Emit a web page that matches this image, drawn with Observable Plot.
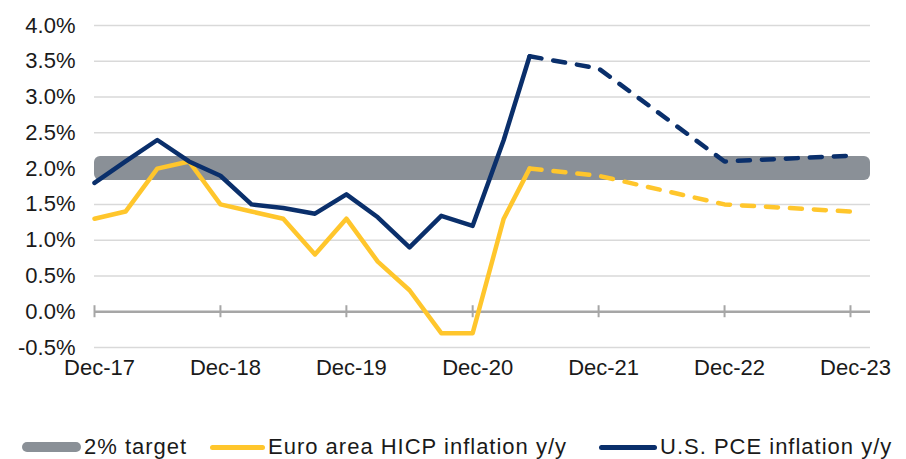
<!DOCTYPE html>
<html>
<head>
<meta charset="utf-8">
<script src="https://cdn.jsdelivr.net/npm/d3@7"></script>
<script src="https://cdn.jsdelivr.net/npm/@observablehq/plot@0.6"></script>
<style>
  html, body { margin: 0; padding: 0; background: #fff; }
  #wrap { position: relative; width: 906px; height: 459px; overflow: hidden; }
  #legend { position: absolute; left: 0; top: 434px; width: 906px; height: 26px;
            font-family: "Liberation Sans", Arial, sans-serif; font-size: 22px; color: #1a1a1a;
            letter-spacing: 1px; }
  .item { position: absolute; top: 0; display: flex; align-items: center; height: 26px; white-space: nowrap; }
  .sw { display: inline-block; border-radius: 5px; margin-right: 3px; }
</style>
</head>
<body>
<div id="wrap">
  <div id="chart"></div>
  <div id="legend"></div>
</div>
<script>
// ---- data (percent, y/y) ----
const actualDates = ["2017-12-01","2018-03-01","2018-06-01","2018-09-01","2018-12-01",
                     "2019-03-01","2019-06-01","2019-09-01","2019-12-01","2020-03-01",
                     "2020-06-01","2020-09-01","2020-12-01","2021-03-01","2021-05-15"];
const euroActual = [1.3, 1.4, 2.0, 2.1, 1.5, 1.4, 1.3, 0.8, 1.3, 0.7, 0.3, -0.3, -0.3, 1.3, 2.0];
const usActual   = [1.8, 2.1, 2.4, 2.1, 1.9, 1.5, 1.45, 1.37, 1.64, 1.32, 0.9, 1.34, 1.2, 2.4, 3.57];

const forecastDates = ["2021-05-15","2021-12-01","2022-12-01","2023-12-01"];
const euroForecast  = [2.0, 1.9, 1.5, 1.4];
const usForecast    = [3.57, 3.4, 2.1, 2.18];

const targetValue = [2];
const xTickLabels = ["2017-12-01","2018-12-01","2019-12-01","2020-12-01","2021-12-01","2022-12-01","2023-12-01"];
const yTickValues = [-0.5, 0, 0.5, 1, 1.5, 2, 2.5, 3, 3.5, 4];

const seriesNames = ["2% target", "Euro area HICP inflation y/y", "U.S. PCE inflation y/y"];
const colors = {target: "#8a9097", euro: "#ffc62c", us: "#0a2f6b"};

// ---- tables ----
const actual = actualDates.map((d, i) => ({date: new Date(d), euro: euroActual[i], us: usActual[i]}));
const forecast = forecastDates.map((d, i) => ({date: new Date(d), euro: euroForecast[i], us: usForecast[i]}));
const xTicks = xTickLabels.map(d => new Date(d));
const xDomain = [new Date("2017-12-01"), new Date("2024-01-28")];

const chart = Plot.plot({
  width: 906,
  height: 397,
  marginLeft: 94,
  marginRight: 36,
  marginTop: 25,
  marginBottom: 50,
  x: {type: "utc", domain: xDomain},
  y: {domain: [-0.5, 4]},
  style: {fontFamily: "Liberation Sans, Arial, sans-serif", fontSize: "22px", color: "#1a1a1a", background: "#fff"},
  marks: [
    Plot.gridY(yTickValues, {stroke: "#d9d9d9", strokeOpacity: 1, strokeWidth: 1.5}),
    Plot.rect(targetValue, {x1: () => xDomain[0], x2: () => xDomain[1], y1: d => d, y2: d => d,
                            insetTop: -12, insetBottom: -12, rx: 6, fill: colors.target}),
    Plot.ruleY([0], {stroke: "#a6a6a6", strokeWidth: 2.5}),
    Plot.ruleX(xTicks, {x: d => d, y1: 0, y2: 0, insetTop: -6, insetBottom: -6, stroke: "#a6a6a6", strokeWidth: 2}),
    Plot.line(actual, {x: "date", y: "euro", stroke: colors.euro, strokeWidth: 4.5}),
    Plot.line(forecast, {x: "date", y: "euro", stroke: colors.euro, strokeWidth: 4.5,
                         strokeDasharray: "12,12", strokeLinecap: "round"}),
    Plot.line(actual, {x: "date", y: "us", stroke: colors.us, strokeWidth: 4.5}),
    Plot.line(forecast, {x: "date", y: "us", stroke: colors.us, strokeWidth: 4.5,
                         strokeDasharray: "12,12", strokeLinecap: "round"}),
    Plot.axisY(yTickValues, {tickSize: 0, tickPadding: 19, tickFormat: d => d.toFixed(1) + "%"}),
    Plot.axisX(xTicks, {tickSize: 0, tickPadding: 12, dx: 5, tickFormat: d3.utcFormat("%b-%y")})
  ]
});
document.getElementById("chart").appendChild(chart);

// ---- legend ----
const legendItems = [
  {name: seriesNames[0], color: colors.target, left: 22, w: 59, h: 10},
  {name: seriesNames[1], color: colors.euro, left: 210, w: 55, h: 5},
  {name: seriesNames[2], color: colors.us, left: 599, w: 58, h: 5}
];
const legend = document.getElementById("legend");
for (const it of legendItems) {
  const div = document.createElement("div");
  div.className = "item";
  div.style.left = it.left + "px";
  const sw = document.createElement("span");
  sw.className = "sw";
  sw.style.width = it.w + "px";
  sw.style.height = it.h + "px";
  sw.style.background = it.color;
  const tx = document.createElement("span");
  tx.textContent = it.name;
  div.appendChild(sw);
  div.appendChild(tx);
  legend.appendChild(div);
}
</script>
</body>
</html>
